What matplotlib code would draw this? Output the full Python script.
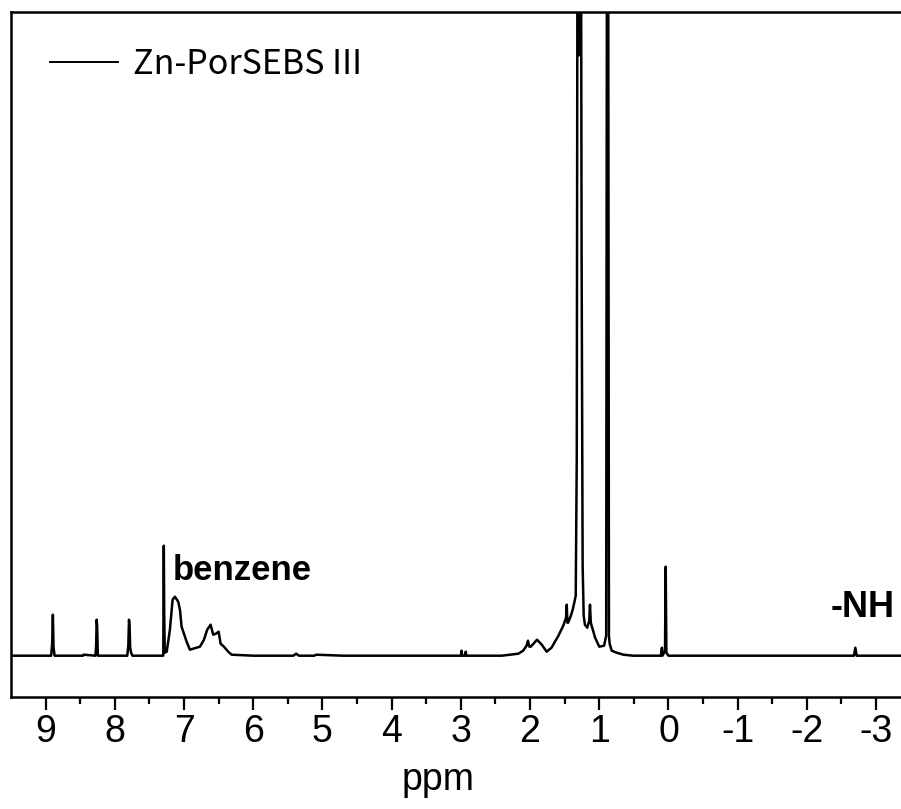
import numpy as np
import matplotlib.pyplot as plt

plt.rcParams['axes.unicode_minus'] = False
plt.rcParams['font.family'] = ['Liberation Sans', 'DejaVu Sans']

# spectrum: chemical shift (ppm) and intensity (a.u., baseline 0)
ppm = [9.50, 9.20, 8.92, 8.905, 8.895, 8.885, 8.87, 8.60, 8.46, 8.45, 8.28, 8.27,
       8.262, 8.255, 8.245, 8.10, 7.82, 7.805, 7.795, 7.787, 7.778, 7.765, 7.745, 7.60,
       7.30, 7.292, 7.286, 7.278,
       7.25, 7.204, 7.165, 7.132, 7.084, 7.059, 7.035, 7.001, 6.962, 6.915, 6.867,
       6.770, 6.712, 6.665, 6.616, 6.578, 6.539, 6.500, 6.471, 6.423, 6.361, 6.312,
       6.00, 5.42, 5.38, 5.34, 5.12, 5.09, 4.70, 4.20, 3.60, 3.00, 2.99, 2.98, 2.94,
       2.93, 2.92, 2.41, 2.29, 2.17, 2.10, 2.05, 2.03, 2.01, 1.99, 1.95, 1.90, 1.83,
       1.76, 1.69, 1.59, 1.52, 1.48, 1.47, 1.46, 1.45, 1.41, 1.38, 1.34, 1.325, 1.31,
       1.30, 1.285, 1.27, 1.255, 1.24, 1.225, 1.207, 1.174, 1.145, 1.134, 1.122, 1.11,
       1.06, 1.00, 0.93, 0.90, 0.885, 0.875, 0.86, 0.85, 0.82, 0.75, 0.65, 0.51, 0.30,
       0.11, 0.095, 0.085, 0.05, 0.04, 0.03, 0.00, -1.00, -2.68, -2.70, -2.72, -3.36]
inten = [0, 0, 0, 12, 41, 8, 0, 0, 0, 1, 0, 10,
         36, 30, 0, 0, 0, 10, 36, 30, 8, 3, 0, 0,
         0, 110, 40, 3,
         4, 26, 56, 59, 54, 46, 29, 22, 14, 6, 7,
         9, 16, 26, 31, 21, 22, 24, 12, 9, 4, 1,
         0, 0, 2, 0, 0, 1, 0, 0, 0, 0, 5, 0, 0,
         4, 0, 0, 1, 2, 5, 10, 15, 9, 9, 12, 16, 11,
         4, 8, 20, 30, 38, 51, 33, 33, 40, 47, 60, 200, 1000,
         600, 1000, 1000, 400, 90, 40, 31, 28, 35, 51, 33, 30,
         18, 9, 10, 20, 1000, 1000, 20, 12, 5, 3, 1, 0, 0,
         0, 8, 0, 5, 89, 3, 0, 0, 0, 8, 0, 0]

major_ticks = [9, 8, 7, 6, 5, 4, 3, 2, 1, 0, -1, -2, -3]
minor_ticks = [8.5, 7.5, 6.5, 5.5, 4.5, 3.5, 2.5, 1.5, 0.5, -0.5, -1.5, -2.5]
tick_labels = ['9', '8', '7', '6', '5', '4', '3', '2', '1', '0', '-1', '-2', '-3']
series_name = 'Zn-PorSEBS III'

fig = plt.figure(figsize=(9.01, 8.09), dpi=100)
ax = fig.add_axes([11 / 901, 112 / 809, 890 / 901, 685 / 809])

ax.plot(ppm, inten, color='black', lw=1.8, label=series_name)

ax.set_xlim(9.5, -3.36)
ax.set_ylim(-41.3, 643.7)

ax.set_xticks(major_ticks)
ax.set_xticklabels(tick_labels)
ax.set_xticks(minor_ticks, minor=True)
ax.set_yticks([])
ax.tick_params(axis='x', which='major', direction='out', length=9.5, width=1.6,
               labelsize=27, pad=3)
ax.tick_params(axis='x', which='minor', direction='out', length=5, width=1.6)

for side in ['left', 'top', 'bottom']:
    ax.spines[side].set_linewidth(1.8)
ax.spines['right'].set_visible(False)

ax.set_xlabel('ppm', fontsize=27)
ax.xaxis.set_label_coords((438 - 11) / 890, -0.095)

ax.text(7.156, 75.7, 'benzene', fontsize=25, fontweight='bold', ha='left', va='baseline')
ax.text(-2.80, 38.4, '-NH', fontsize=26, fontweight='bold', ha='center', va='baseline')

leg = ax.legend(loc='upper left', bbox_to_anchor=((50 - 11) / 890, (697 - 47) / 685),
                frameon=False, borderpad=0, borderaxespad=0, handlelength=2.0,
                handletextpad=0.45,
                prop={'family': ['Noto Sans CJK SC', 'DejaVu Sans'], 'size': 24.5})
for h in leg.get_lines():
    h.set_linewidth(1.4)

fig.savefig('out.png', dpi=100)
